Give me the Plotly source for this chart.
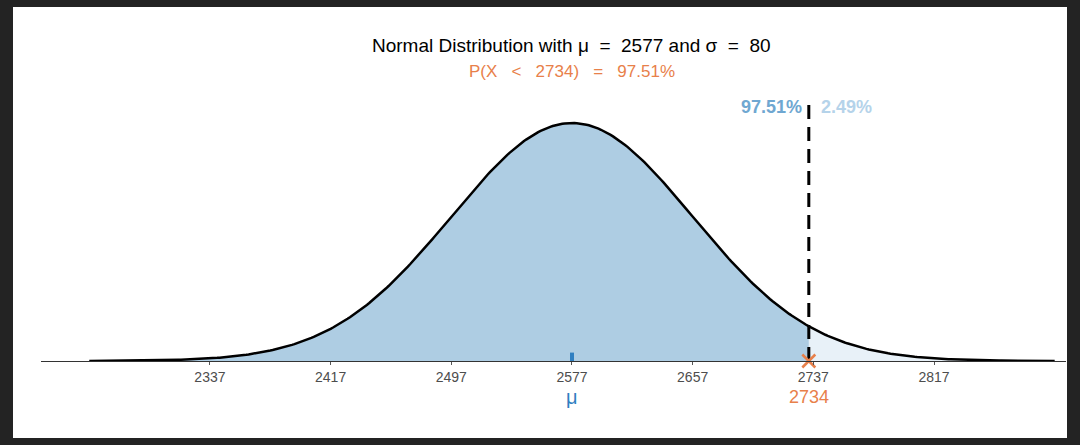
import math
import plotly.graph_objects as go

# ---- data ----
mu = 2577
sigma = 80
x_cut = 2734
p_left_label = "97.51%"
p_right_label = "2.49%"
tick_values = [2337, 2417, 2497, 2577, 2657, 2737, 2817]
tick_labels = ["2337", "2417", "2497", "2577", "2657", "2737", "2817"]

# ---- curve ----
def pdf(x):
    return math.exp(-0.5 * ((x - mu) / sigma) ** 2) / (sigma * math.sqrt(2 * math.pi))

n = 400
lo, hi = mu - 4 * sigma, mu + 4 * sigma
xs = [lo + (hi - lo) * i / n for i in range(n + 1)]
ys = [pdf(x) for x in xs]
xl = [x for x in xs if x <= x_cut] + [x_cut]
yl = [pdf(x) for x in xl]
xr = [x_cut] + [x for x in xs if x >= x_cut]
yr = [pdf(x) for x in xr]
peak = pdf(mu)

W, H = 1080, 445
ml, mr, mt, mb = 41, 14, 90, 84
pw, ph = W - ml - mr, H - mt - mb
ytop = peak * ph / 238.0

BLUE_FILL = "#aecde3"
LIGHT_FILL = "#e8f1f8"
ORANGE = "#e8804a"
MU_BLUE = "#2f7fc1"

fig = go.Figure()
fig.add_trace(go.Scatter(x=xr, y=yr, fill="tozeroy", fillcolor=LIGHT_FILL,
                         mode="lines", line=dict(width=0), hoverinfo="skip"))
fig.add_trace(go.Scatter(x=xl, y=yl, fill="tozeroy", fillcolor=BLUE_FILL,
                         mode="lines", line=dict(width=0), hoverinfo="skip"))
fig.add_trace(go.Scatter(x=xs, y=ys, mode="lines",
                         line=dict(color="black", width=2.5)))
fig.add_trace(go.Scatter(x=[x_cut, x_cut], y=[0, 1.1 * peak], mode="lines",
                         line=dict(color="black", width=3, dash="14px,8px")))
fig.add_trace(go.Scatter(x=[mu], y=[0], mode="markers", cliponaxis=True,
                         marker=dict(symbol="line-ns", size=12, color=MU_BLUE,
                                     line=dict(color=MU_BLUE, width=4))))
fig.add_trace(go.Scatter(x=[x_cut], y=[0], mode="markers", cliponaxis=False,
                         marker=dict(symbol="x-thin-open", size=13, color=ORANGE,
                                     line=dict(color=ORANGE, width=2.5))))

def py(pix):
    # pixel row -> paper y
    return (H - mb - pix) / ph

S = "\u00a0"
annotations = [
    dict(text=f"Normal Distribution with \u03bc {S}={S} 2577 and \u03c3 {S}={S} 80",
         x=mu, xref="x", y=py(45), yref="paper", yanchor="middle", showarrow=False,
         font=dict(size=19, color="black")),
    dict(text=f"P(X {S}{S}<{S}{S} 2734) {S}{S}={S}{S} 97.51%",
         x=mu, xref="x", y=py(71), yref="paper", yanchor="middle", showarrow=False,
         font=dict(size=17, color=ORANGE)),
    dict(text="<b>" + p_left_label + "</b>", x=x_cut, xref="x", y=py(107), yref="paper",
         yanchor="middle", xanchor="right", xshift=-5, showarrow=False,
         font=dict(size=18, color="#6fa7d1")),
    dict(text="<b>" + p_right_label + "</b>", x=x_cut, xref="x", y=py(107), yref="paper",
         yanchor="middle", xanchor="left", xshift=10, showarrow=False,
         font=dict(size=18, color="#b5d3ea")),
    dict(text="\u03bc", x=mu, xref="x", y=py(397), yref="paper", yanchor="middle",
         showarrow=False, font=dict(size=20, color=MU_BLUE)),
    dict(text=str(x_cut), x=x_cut, xref="x", y=py(397), yref="paper", yanchor="middle",
         showarrow=False, font=dict(size=18, color=ORANGE)),
]

fig.update_layout(
    width=W, height=H,
    margin=dict(l=ml, r=mr, t=mt, b=mb),
    paper_bgcolor="#232323",
    plot_bgcolor="white",
    showlegend=False,
    font=dict(family="Liberation Sans, Arial, sans-serif"),
    annotations=annotations,
    shapes=[dict(type="rect", xref="paper", yref="paper", layer="below",
                 x0=(13 - ml) / pw, x1=(1067 - ml) / pw,
                 y0=py(438), y1=py(7),
                 fillcolor="white", line=dict(width=0))],
    xaxis=dict(range=[2225, 2904.5], showgrid=False, zeroline=False,
               showline=True, linecolor="#333333", linewidth=1.2,
               ticks="outside", ticklen=3, tickcolor="#555555",
               tickvals=tick_values, ticktext=tick_labels,
               tickfont=dict(size=14, color="#4d4d4d")),
    yaxis=dict(range=[0, ytop], visible=False, showgrid=False, zeroline=False),
)

fig.write_html(
    "out.html",
    config={"displayModeBar": False},
    post_script="document.body.style.margin='0';document.body.style.background='#232323';",
)
